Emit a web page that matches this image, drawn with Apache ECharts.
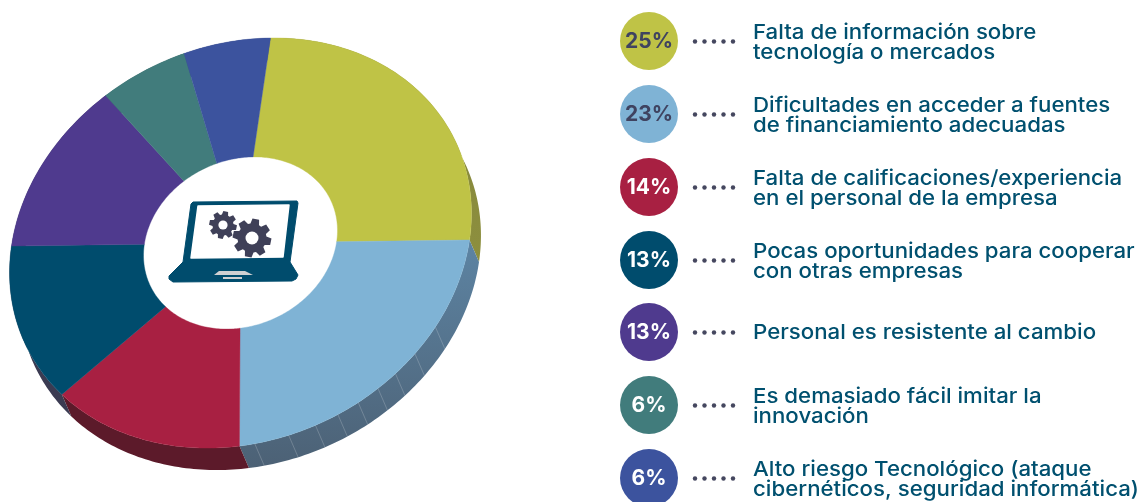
<!DOCTYPE html>
<html><head><meta charset="utf-8">
<style>html,body{margin:0;padding:0;background:#fff}#c{width:1141px;height:502px}</style>
<script src="https://cdn.jsdelivr.net/npm/echarts@6/dist/echarts.min.js"></script>
</head><body><div id="c"></div>
<script>
const shares = [25, 23, 14, 13, 13, 6, 6];
const shareLabels = ['25%', '23%', '14%', '13%', '13%', '6%', '6%'];
const topColors = ['#bfc346', '#7fb3d5', '#a82042', '#004c6d', '#4f3a8e', '#417c7c', '#3c539e'];
const sideColors = [['#82843a', '#8d8f3e'], ['#5d84a3', '#4c6175'], ['#5c1a2a', '#5c1a2a'], ['#3b3b52', '#3b3b52'], ['#3b3b52', '#3b3b52'], ['#2f5a5a', '#2f5a5a'], ['#2b3c72', '#2b3c72']];
const labelColors = ['#3f4360', '#3f4360', '#fff', '#fff', '#fff', '#fff', '#fff'];
const causes = [
  ['Falta de información sobre', 'tecnología o mercados'],
  ['Dificultades en acceder a fuentes', 'de financiamiento adecuadas'],
  ['Falta de calificaciones/experiencia', 'en el personal de la empresa'],
  ['Pocas oportunidades para cooperar', 'con otras empresas'],
  ['Personal es resistente al cambio'],
  ['Es demasiado fácil imitar la', 'innovación'],
  ['Alto riesgo Tecnológico (ataque', 'cibernéticos, seguridad informática)']
];

// layout of the tilted disc: centre + images of the unit vectors (affine projection of a circle)
const C = [240.5, 243], AX = [30, -205], BX = [229, -3], HOLE = 0.42, DROP = [9.5, 22];
const SEAMS = [35, 52, 115, 123.5, 130.4, 136, 141.9, 147.6, 153.6, 160.5, 169];
const total = shares.reduce((s, v) => s + v, 0);
const starts = shares.reduce((acc, v, i) => (acc.push(i ? acc[i - 1] + shares[i - 1] : 0), acc), []);
const toDeg = v => v / total * 360;
const pt = (deg, k, off) => {
  const t = deg * Math.PI / 180, c = Math.cos(t), s = Math.sin(t);
  return [C[0] + k * (AX[0] * c + BX[0] * s) + (off ? DROP[0] : 0),
          C[1] + k * (AX[1] * c + BX[1] * s) + (off ? DROP[1] : 0)];
};
const arc = (a, b, k, off) => {
  const n = Math.max(2, Math.ceil(Math.abs(b - a))), out = [];
  for (let i = 0; i <= n; i++) out.push(pt(a + (b - a) * i / n, k, off));
  return out;
};
function renderTop(params, api) {
  const a = toDeg(starts[params.dataIndex]), b = a + toDeg(api.value(0));
  return { type: 'polygon', shape: { points: arc(a, b, 1, false).concat(arc(b, a, HOLE, false)) },
    style: { fill: topColors[params.dataIndex], stroke: topColors[params.dataIndex], lineWidth: 0.4 } };
}
function renderSide(params, api) {
  const i = params.dataIndex, a = toDeg(starts[i]), b = a + toDeg(api.value(0));
  const children = [{ type: 'polygon', shape: { points: arc(a, b, 1, false).concat(arc(b, a, 1, true)) },
    style: { fill: { type: 'linear', x: 0, y: 0, x2: 0, y2: 1, colorStops: [{ offset: 0, color: sideColors[i][0] }, { offset: 1, color: sideColors[i][1] }] } } }];
  SEAMS.filter(d => d > a && d < b).forEach(d => {
    const p = pt(d, 1, false), q = pt(d, 1, true);
    children.push({ type: 'line', shape: { x1: p[0], y1: p[1], x2: q[0], y2: q[1] }, style: { stroke: 'rgba(255,255,255,0.28)', lineWidth: 0.7 } });
  });
  return { type: 'group', children };
}

// legend and icon
const ROW_Y = [41, 114, 187, 260, 332, 405, 478];
const graphics = [];
const FONT = '"Inter","Open Sans",sans-serif';
shares.forEach((_, i) => {
  const y = ROW_Y[i];
  graphics.push({ type: 'circle', shape: { cx: 649, cy: y, r: 29 }, style: { fill: topColors[i] } });
  graphics.push({ type: 'text', x: 649, y: y + 1, style: { text: shareLabels[i], fill: labelColors[i], font: '700 21px ' + FONT, align: 'center', verticalAlign: 'middle' } });
  [695, 704.5, 714, 723.5, 733].forEach(x => graphics.push({ type: 'circle', shape: { cx: x, cy: y + 0.5, r: 2.2 }, style: { fill: '#45475f' } }));
  const lines = causes[i];
  lines.forEach((ln, j) => {
    const ty = (lines.length === 1 ? y : y + (j ? 10.5 : -9.5)) + 1;
    graphics.push({ type: 'text', x: 753, y: ty, scaleX: 1.085, style: { text: ln, fill: '#00506f', font: '500 20.5px ' + FONT, align: 'left', verticalAlign: 'middle' } });
  });
});
function gear(cx, cy, R, r, teeth) {
  const pts = [], step = Math.PI * 2 / teeth;
  for (let i = 0; i < teeth; i++) {
    const t = i * step + 0.2;
    [[-0.30, r], [-0.17, R], [0.17, R], [0.30, r]].forEach(([f, rad]) => {
      pts.push([cx + rad * Math.cos(t + f * step * 1.3), cy + rad * Math.sin(t + f * step * 1.3)]);
    });
  }
  return pts;
}
const NAVY = '#004c6d', GEAR = '#3f4058';
graphics.push({ type: 'polygon', shape: { points: [[193, 202], [297, 201], [298, 203], [290, 262], [298, 275], [296, 279], [292, 281], [173, 282], [169, 279], [169, 276], [183, 262], [191, 204]] }, style: { fill: NAVY, stroke: NAVY, lineWidth: 1, lineJoin: 'round' } });
graphics.push({ type: 'polygon', shape: { points: [[198, 206], [289, 205], [283, 257], [191, 258]] }, style: { fill: '#fff', stroke: '#fff', lineWidth: 1.5, lineJoin: 'round' } });
graphics.push({ type: 'polygon', shape: { points: gear(223, 225, 14, 10.5, 8) }, style: { fill: GEAR } });
graphics.push({ type: 'circle', shape: { cx: 223, cy: 225, r: 4.6 }, style: { fill: '#fff' } });
graphics.push({ type: 'polygon', shape: { points: gear(252, 238, 19.5, 14.5, 8) }, style: { fill: GEAR } });
graphics.push({ type: 'circle', shape: { cx: 252, cy: 238, r: 6.5 }, style: { fill: '#fff' } });
graphics.push({ type: 'polygon', shape: { points: [[219, 271], [245, 271], [253, 275], [214, 275]] }, style: { fill: '#cfd0d2' } });
graphics.push({ type: 'rect', shape: { x: 223, y: 277, width: 19, height: 2 }, style: { fill: '#cfd0d2' } });

const chart = echarts.init(document.getElementById('c'), null, { renderer: 'canvas' });
chart.setOption({
  animation: false,
  backgroundColor: '#fff',
  graphic: { elements: graphics.map(g => Object.assign({ z: 10 }, g)) },
  series: [
    { type: 'custom', coordinateSystem: 'none', z: 1, clip: false, renderItem: renderSide, data: shares.map(v => [v]) },
    { type: 'custom', coordinateSystem: 'none', z: 2, clip: false, renderItem: renderTop, data: shares.map(v => [v]) }
  ]
});
</script></body></html>
